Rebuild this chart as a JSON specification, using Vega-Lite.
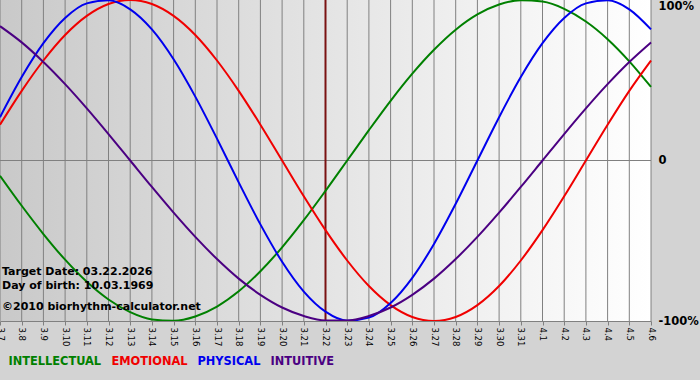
{
  "$schema": "https://vega.github.io/schema/vega-lite/v6.json",
  "width": 651,
  "height": 321,
  "autosize": {"type": "none"},
  "padding": {"left": 0, "top": 0, "right": 49, "bottom": 59},
  "background": "#d3d3d3",
  "config": {"view": {"stroke": null}, "font": "DejaVu Sans"},
  "datasets": {
    "bio": [
      {"d": "3.7", "INTELLECTUAL": -9.5, "EMOTIONAL": 22.3, "PHYSICAL": 27.0, "INTUITIVE": 83.7},
      {"d": "3.8", "INTELLECTUAL": -28.2, "EMOTIONAL": 43.4, "PHYSICAL": 52.0, "INTUITIVE": 73.6},
      {"d": "3.9", "INTELLECTUAL": -45.8, "EMOTIONAL": 62.3, "PHYSICAL": 73.1, "INTUITIVE": 61.4},
      {"d": "3.10", "INTELLECTUAL": -61.8, "EMOTIONAL": 78.2, "PHYSICAL": 88.8, "INTUITIVE": 47.6},
      {"d": "3.11", "INTELLECTUAL": -75.6, "EMOTIONAL": 90.1, "PHYSICAL": 97.9, "INTUITIVE": 32.5},
      {"d": "3.12", "INTELLECTUAL": -86.6, "EMOTIONAL": 97.5, "PHYSICAL": 99.8, "INTUITIVE": 16.5},
      {"d": "3.13", "INTELLECTUAL": -94.5, "EMOTIONAL": 100, "PHYSICAL": 94.2, "INTUITIVE": 0},
      {"d": "3.14", "INTELLECTUAL": -99.0, "EMOTIONAL": 97.5, "PHYSICAL": 81.7, "INTUITIVE": -16.5},
      {"d": "3.15", "INTELLECTUAL": -99.9, "EMOTIONAL": 90.1, "PHYSICAL": 63.1, "INTUITIVE": -32.5},
      {"d": "3.16", "INTELLECTUAL": -97.2, "EMOTIONAL": 78.2, "PHYSICAL": 39.8, "INTUITIVE": -47.6},
      {"d": "3.17", "INTELLECTUAL": -91.0, "EMOTIONAL": 62.3, "PHYSICAL": 13.6, "INTUITIVE": -61.4},
      {"d": "3.18", "INTELLECTUAL": -81.5, "EMOTIONAL": 43.4, "PHYSICAL": -13.6, "INTUITIVE": -73.6},
      {"d": "3.19", "INTELLECTUAL": -69.0, "EMOTIONAL": 22.3, "PHYSICAL": -39.8, "INTUITIVE": -83.7},
      {"d": "3.20", "INTELLECTUAL": -54.1, "EMOTIONAL": 0, "PHYSICAL": -63.1, "INTUITIVE": -91.6},
      {"d": "3.21", "INTELLECTUAL": -37.2, "EMOTIONAL": -22.3, "PHYSICAL": -81.7, "INTUITIVE": -96.9},
      {"d": "3.22", "INTELLECTUAL": -18.9, "EMOTIONAL": -43.4, "PHYSICAL": -94.2, "INTUITIVE": -99.7},
      {"d": "3.23", "INTELLECTUAL": 0, "EMOTIONAL": -62.3, "PHYSICAL": -99.8, "INTUITIVE": -99.7},
      {"d": "3.24", "INTELLECTUAL": 18.9, "EMOTIONAL": -78.2, "PHYSICAL": -97.9, "INTUITIVE": -96.9},
      {"d": "3.25", "INTELLECTUAL": 37.2, "EMOTIONAL": -90.1, "PHYSICAL": -88.8, "INTUITIVE": -91.6},
      {"d": "3.26", "INTELLECTUAL": 54.1, "EMOTIONAL": -97.5, "PHYSICAL": -73.1, "INTUITIVE": -83.7},
      {"d": "3.27", "INTELLECTUAL": 69.0, "EMOTIONAL": -100, "PHYSICAL": -52.0, "INTUITIVE": -73.6},
      {"d": "3.28", "INTELLECTUAL": 81.5, "EMOTIONAL": -97.5, "PHYSICAL": -27.0, "INTUITIVE": -61.4},
      {"d": "3.29", "INTELLECTUAL": 91.0, "EMOTIONAL": -90.1, "PHYSICAL": 0, "INTUITIVE": -47.6},
      {"d": "3.30", "INTELLECTUAL": 97.2, "EMOTIONAL": -78.2, "PHYSICAL": 27.0, "INTUITIVE": -32.5},
      {"d": "3.31", "INTELLECTUAL": 99.9, "EMOTIONAL": -62.3, "PHYSICAL": 52.0, "INTUITIVE": -16.5},
      {"d": "4.1", "INTELLECTUAL": 99.0, "EMOTIONAL": -43.4, "PHYSICAL": 73.1, "INTUITIVE": 0},
      {"d": "4.2", "INTELLECTUAL": 94.5, "EMOTIONAL": -22.3, "PHYSICAL": 88.8, "INTUITIVE": 16.5},
      {"d": "4.3", "INTELLECTUAL": 86.6, "EMOTIONAL": 0, "PHYSICAL": 97.9, "INTUITIVE": 32.5},
      {"d": "4.4", "INTELLECTUAL": 75.6, "EMOTIONAL": 22.3, "PHYSICAL": 99.8, "INTUITIVE": 47.6},
      {"d": "4.5", "INTELLECTUAL": 61.8, "EMOTIONAL": 43.4, "PHYSICAL": 94.2, "INTUITIVE": 61.4},
      {"d": "4.6", "INTELLECTUAL": 45.8, "EMOTIONAL": 62.3, "PHYSICAL": 81.7, "INTUITIVE": 73.6}
    ]
  },
  "layer": [
    {
      "data": {"values": [{}]},
      "mark": {"type": "rect", "color": {"gradient": "linear", "x1": 0, "y1": 0, "x2": 1, "y2": 0, "stops": [{"offset": 0, "color": "#c9c9c9"}, {"offset": 1, "color": "#ffffff"}]}},
      "encoding": {
        "x": {
          "datum": "3.7", "type": "ordinal", "title": null,
          "scale": {"type": "point", "padding": 0, "domain": ["3.7","3.8","3.9","3.10","3.11","3.12","3.13","3.14","3.15","3.16","3.17","3.18","3.19","3.20","3.21","3.22","3.23","3.24","3.25","3.26","3.27","3.28","3.29","3.30","3.31","4.1","4.2","4.3","4.4","4.5","4.6"]},
          "axis": {"title": null, "labelAngle": 90, "labelAlign": "left", "labelBaseline": "middle", "labelFontSize": 8.5, "labelColor": "#000000", "labelPadding": 2, "tickSize": 4, "tickColor": "#808080", "domainColor": "#808080", "grid": false, "zindex": 1}
        },
        "x2": {"datum": "4.6"},
        "y": {
          "datum": 100, "type": "quantitative", "title": null,
          "scale": {"domain": [-100, 100], "nice": false},
          "axis": {"title": null, "orient": "right", "values": [-100, 0, 100], "labelExpr": "datum.value == 0 ? '0' : datum.value + '%'", "labelFontSize": 11.5, "labelFontWeight": "bold", "labelColor": "#000000", "ticks": false, "domain": false, "grid": false, "labelPadding": 7, "labelBaseline": {"expr": "datum.value == 100 ? 'top' : 'middle'"}}
        },
        "y2": {"datum": -100}
      }
    },
    {
      "data": {"name": "bio"},
      "mark": {"type": "rule", "color": "#808080", "strokeWidth": 1},
      "encoding": {
        "x": {"field": "d", "type": "ordinal", "title": null},
        "y": {"datum": 100, "type": "quantitative", "title": null},
        "y2": {"datum": -100}
      }
    },
    {
      "data": {"values": [{}]},
      "mark": {"type": "rule", "color": "#808080", "strokeWidth": 1},
      "encoding": {
        "x": {"datum": "3.7", "type": "ordinal", "title": null},
        "x2": {"datum": "4.6"},
        "y": {"datum": 0, "type": "quantitative", "title": null}
      }
    },
    {
      "data": {"values": [{}]},
      "mark": {"type": "rule", "color": "#7a1212", "strokeWidth": 2},
      "encoding": {
        "x": {"datum": "3.22", "type": "ordinal", "title": null},
        "y": {"datum": 100, "type": "quantitative", "title": null},
        "y2": {"datum": -100}
      }
    },
    {
      "data": {"name": "bio"},
      "transform": [{"fold": ["INTELLECTUAL", "EMOTIONAL", "PHYSICAL", "INTUITIVE"], "as": ["series", "value"]}],
      "mark": {"type": "line", "interpolate": "monotone", "strokeWidth": 2},
      "encoding": {
        "x": {"field": "d", "type": "ordinal", "sort": null, "title": null},
        "y": {"field": "value", "type": "quantitative", "title": null},
        "color": {
          "field": "series", "type": "nominal",
          "scale": {"domain": ["INTELLECTUAL", "EMOTIONAL", "PHYSICAL", "INTUITIVE"], "range": ["#008000", "#f00000", "#0000ee", "#4b0082"]},
          "legend": {"title": null, "orient": "bottom", "direction": "horizontal", "offset": 10, "padding": 0, "symbolSize": 1, "symbolOpacity": 0, "symbolStrokeWidth": 0, "labelOffset": -3, "columnPadding": 1, "labelFontSize": 11.4, "labelFontWeight": "bold",
            "labelColor": {"expr": "datum.label == 'INTELLECTUAL' ? '#008000' : datum.label == 'EMOTIONAL' ? '#f00000' : datum.label == 'PHYSICAL' ? '#0000ee' : '#4b0082'"}}
        }
      }
    },
    {
      "data": {"values": [{}]},
      "mark": {"type": "text", "text": "Target Date: 03.22.2026", "align": "left", "baseline": "middle", "dx": 2, "fontSize": 11, "fontWeight": "bold", "color": "#000000"},
      "encoding": {
        "x": {"datum": "3.7", "type": "ordinal", "title": null},
        "y": {"datum": -69.5, "type": "quantitative", "title": null}
      }
    },
    {
      "data": {"values": [{}]},
      "mark": {"type": "text", "text": "Day of birth: 10.03.1969", "align": "left", "baseline": "middle", "dx": 2, "fontSize": 11, "fontWeight": "bold", "color": "#000000"},
      "encoding": {
        "x": {"datum": "3.7", "type": "ordinal", "title": null},
        "y": {"datum": -78.2, "type": "quantitative", "title": null}
      }
    },
    {
      "data": {"values": [{}]},
      "mark": {"type": "text", "text": "©2010 biorhythm-calculator.net", "align": "left", "baseline": "middle", "dx": 2, "fontSize": 11, "fontWeight": "bold", "color": "#000000"},
      "encoding": {
        "x": {"datum": "3.7", "type": "ordinal", "title": null},
        "y": {"datum": -91.1, "type": "quantitative", "title": null}
      }
    }
  ]
}
